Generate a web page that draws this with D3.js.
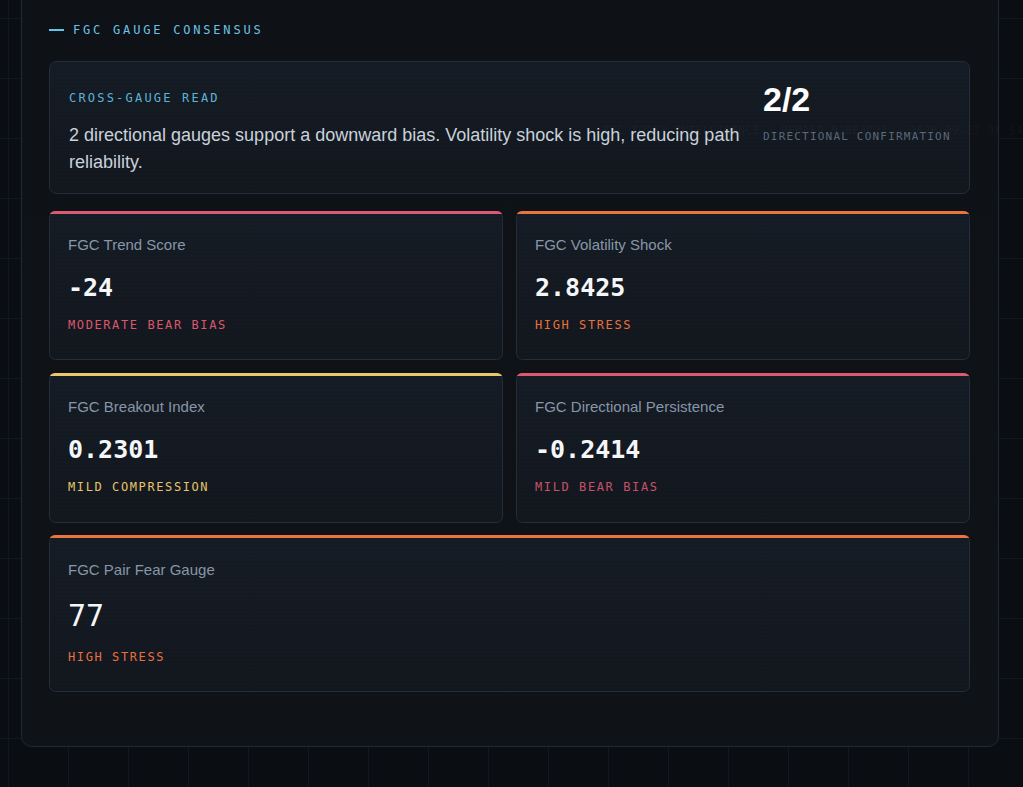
<!DOCTYPE html>
<html>
<head>
<meta charset="utf-8">
<script src="https://cdn.jsdelivr.net/npm/d3@7"></script>
<style>
  html, body { margin: 0; padding: 0; background: #0a0d12; }
  svg { display: block; }
</style>
</head>
<body>
<svg id="chart" width="1023" height="787"></svg>
<script>
// Data
const sectionTitle = "FGC GAUGE CONSENSUS";
const readTitle = "CROSS-GAUGE READ";
const readText = "2 directional gauges support a downward bias. Volatility shock is high, reducing path reliability.";
const confirmCount = [2, 2];
const confirmLabel = "DIRECTIONAL CONFIRMATION";
const watermark = "FGC FOREX INTELLIGENCE · MEMBER 92BE8C22 · 2026-09-17 06:54:31";

const gaugeNames = ["FGC Trend Score", "FGC Volatility Shock", "FGC Breakout Index", "FGC Directional Persistence", "FGC Pair Fear Gauge"];
const gaugeValues = ["-24", "2.8425", "0.2301", "-0.2414", "77"];
const gaugeStatus = ["MODERATE BEAR BIAS", "HIGH STRESS", "MILD COMPRESSION", "MILD BEAR BIAS", "HIGH STRESS"];
const gaugeTone = ["bear", "stress", "compression", "mildbear", "stress"];

// Styles
const W = 1023, H = 787;
const mono = "'DejaVu Sans Mono', monospace";
const sans = "'Liberation Sans', Arial, sans-serif";
const toneColor = d3.scaleOrdinal(
	["bear", "stress", "compression", "mildbear"],
	["#db5a72", "#ea7440", "#ebc76c", "#db5a72"]
);
const toneText = d3.scaleOrdinal(
	["bear", "stress", "compression", "mildbear"],
	["#dc566b", "#e8703d", "#e6c46a", "#c55268"]
);

const svg = d3.select("#chart");
const defs = svg.append("defs");

const cardGrad = defs.append("linearGradient").attr("id", "cardGrad")
	.attr("x1", 0).attr("y1", 0).attr("x2", 0).attr("y2", 1);
cardGrad.append("stop").attr("offset", "0%").attr("stop-color", "#151b24");
cardGrad.append("stop").attr("offset", "100%").attr("stop-color", "#12171e");

const panelGrad = defs.append("linearGradient").attr("id", "panelGrad")
	.attr("x1", 0).attr("y1", 0).attr("x2", 0).attr("y2", 1);
panelGrad.append("stop").attr("offset", "0%").attr("stop-color", "#0e1116");
panelGrad.append("stop").attr("offset", "100%").attr("stop-color", "#0f1217");

const scan = defs.append("pattern").attr("id", "scan")
	.attr("width", 4).attr("height", 4).attr("patternUnits", "userSpaceOnUse");
scan.append("rect").attr("width", 4).attr("height", 1).attr("fill", "rgba(255,255,255,0.012)");

// page grid
const gx = d3.range(8, W, 60), gy = d3.range(18, H, 60);
const grid = svg.append("g").attr("stroke", "#121820").attr("stroke-width", 1);
grid.selectAll(".gv").data(gx).join("line").attr("class", "gv")
	.attr("x1", d => d + 0.5).attr("x2", d => d + 0.5).attr("y1", 0).attr("y2", H);
grid.selectAll(".gh").data(gy).join("line").attr("class", "gh")
	.attr("y1", d => d + 0.5).attr("y2", d => d + 0.5).attr("x1", 0).attr("x2", W);

// outer panel
svg.append("rect")
	.attr("x", 21.5).attr("y", -20).attr("width", 977).attr("height", 766.5)
	.attr("rx", 10).attr("fill", "url(#panelGrad)").attr("stroke", "#212936");

// header
const header = svg.append("g");
header.append("rect").attr("x", 49).attr("y", 29).attr("width", 15).attr("height", 2).attr("fill", "#5fc5f0");
header.append("text")
	.attr("x", 73).attr("y", 34)
	.attr("font-family", mono).attr("font-size", 12).attr("letter-spacing", 2.8)
	.attr("fill", "#6cc2e6").text(sectionTitle);

// read card
const read = svg.append("g").attr("transform", "translate(49.5,61.5)");
read.append("rect").attr("width", 920).attr("height", 132).attr("rx", 7)
	.attr("fill", "url(#cardGrad)").attr("stroke", "#232c39");
read.append("rect").attr("width", 920).attr("height", 132).attr("rx", 7).attr("fill", "url(#scan)");
read.append("text")
	.attr("x", 19.5).attr("y", 40.5)
	.attr("font-family", mono).attr("font-size", 12).attr("letter-spacing", 2.2)
	.attr("fill", "#5cb3d8").text(readTitle);

const body = read.append("text")
	.attr("font-family", sans).attr("font-size", 18).attr("fill", "#c9d1db");
// wrap words inside a fixed width
(function wrap() {
	const words = readText.split(" ");
	let line = [], row = 0;
	let tspan = body.append("tspan").attr("x", 19.5).attr("y", 79.5);
	words.forEach(w => {
		line.push(w);
		tspan.text(line.join(" "));
		if (tspan.node().getComputedTextLength() > 685 && line.length > 1) {
			line.pop();
			tspan.text(line.join(" "));
			line = [w];
			row++;
			tspan = body.append("tspan").attr("x", 19.5).attr("y", 79.5 + row * 27).text(w);
		}
	});
})();

read.append("text")
	.attr("x", 713.5).attr("y", 49.5)
	.attr("font-family", sans).attr("font-size", 34).attr("font-weight", "bold")
	.attr("fill", "#ffffff").text(confirmCount.join("/"));
read.append("text")
	.attr("x", 713.5).attr("y", 78.5)
	.attr("font-family", mono).attr("font-size", 11).attr("letter-spacing", 1.2)
	.attr("fill", "#5a6879").text(confirmLabel);

// gauge cards
const colX = d3.scaleOrdinal([0, 1], [49.5, 516.5]);
const rowY = d3.scaleOrdinal([0, 1, 2], [211.5, 373.5, 535.5]);
const rowH = d3.scaleOrdinal([0, 1, 2], [148, 149, 156]);
const cards = gaugeNames.map((name, i) => ({
	name, value: gaugeValues[i], status: gaugeStatus[i], tone: gaugeTone[i],
	row: Math.floor(i / 2), col: i % 2, full: i === gaugeNames.length - 1
}));

const card = svg.selectAll(".gauge").data(cards).join("g")
	.attr("class", "gauge")
	.attr("transform", d => `translate(${colX(d.col)},${rowY(d.row)})`);

card.each(function (d, i) {
	const g = d3.select(this);
	const w = d.full ? 920 : 453;
	const h = rowH(d.row);
	defs.append("clipPath").attr("id", "clip" + i)
		.append("rect").attr("x", -0.5).attr("y", -0.5).attr("width", w + 1).attr("height", h + 1).attr("rx", 6);
	g.append("rect").attr("width", w).attr("height", h).attr("rx", 6)
		.attr("fill", "url(#cardGrad)").attr("stroke", "#232c39");
	g.append("rect").attr("width", w).attr("height", h).attr("rx", 6).attr("fill", "url(#scan)");
	g.append("rect").attr("x", -0.5).attr("y", -0.5).attr("width", w + 1).attr("height", 3)
		.attr("clip-path", `url(#clip${i})`).attr("fill", toneColor(d.tone));

	const big = d.full;
	g.append("text")
		.attr("x", 18.5).attr("y", big ? 39.5 : 38.5)
		.attr("font-family", sans).attr("font-size", 15)
		.attr("fill", "#8796a8").text(d.name);
	g.append("text")
		.attr("x", 18.5).attr("y", big ? 90.5 : 84.5)
		.attr("font-family", mono).attr("font-size", big ? 30 : 25)
		.attr("font-weight", big ? "normal" : "bold")
		.attr("fill", "#f4f6f8").text(d.value);
	g.append("text")
		.attr("x", 18.5).attr("y", big ? 125.5 : 117.5)
		.attr("font-family", mono).attr("font-size", 12).attr("letter-spacing", 1.6)
		.attr("fill", toneText(d.tone)).text(d.status);
});

// faint watermark
svg.append("text")
	.attr("x", 603).attr("y", 134)
	.attr("font-family", mono).attr("font-size", 11).attr("letter-spacing", 0.5)
	.attr("fill", "#ffffff").attr("fill-opacity", 0.04)
	.text(watermark);
</script>
</body>
</html>
